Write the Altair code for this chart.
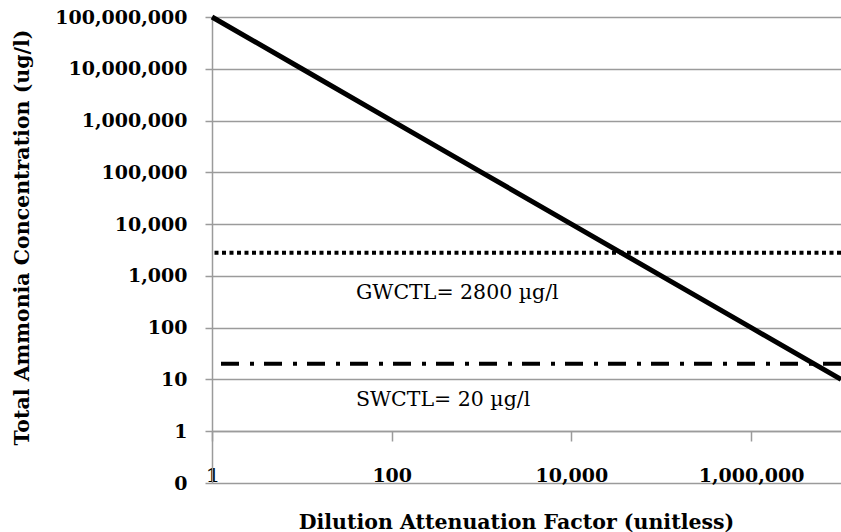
import altair as alt
import pandas as pd

# ---- data ----
daf = [1, 10, 100, 1000, 10000, 100000, 1000000, 10000000]
conc = [100000000, 10000000, 1000000, 100000, 10000, 1000, 100, 10]

gw_value = [2800]
sw_value = [20]

label_texts = ["GWCTL= 2800 µg/l", "SWCTL= 20 µg/l"]
label_x = [40, 40]
label_y = [470, 4]

y_ticks = [0.1, 1, 10, 100, 1000, 10000, 100000, 1000000, 10000000, 100000000]
x_ticks = [1, 100, 10000, 1000000]

line_df = pd.DataFrame({"x": daf, "y": conc})
gw_df = pd.DataFrame({"y": gw_value})
sw_df = pd.DataFrame({"y": sw_value})
lab_df = pd.DataFrame({"x": label_x, "y": label_y, "t": label_texts})

GRID = "#9b9b9b"
FONT = "DejaVu Serif"
XT = "Dilution Attenuation  Factor (unitless)"
YT = "Total Ammonia Concentration  (ug/l)"

xscale = alt.Scale(type="log", domain=[1, 10000000], nice=False)
yscale = alt.Scale(type="log", domain=[0.1, 100000000], nice=False)

xaxis = alt.Axis(
    values=x_ticks, format=",.0f", offset=-52, grid=False,
    domainColor=GRID, domainWidth=1.5, tickColor=GRID, tickWidth=1.5, tickSize=10,
    labelFont=FONT, labelFontWeight="bold", labelFontSize=19, labelColor="black",
    labelBaseline="alphabetic", labelPadding=40, labelOverlap=False, labelFlush=False,
    titleFont=FONT, titleFontWeight="bold", titleFontSize=20.5, titleColor="black",
    titleX=304, titleY=97, titleBaseline="alphabetic",
)
yaxis = alt.Axis(
    values=y_ticks, format=",.0f", grid=True, gridColor=GRID, gridWidth=1.6,
    domainColor=GRID, domainWidth=1.5, tickColor=GRID, tickWidth=1.5, tickSize=7,
    labelFont=FONT, labelFontWeight="bold", labelFontSize=19, labelColor="black",
    labelPadding=18, labelOverlap=False,
    titleFont=FONT, titleFontWeight="bold", titleFontSize=20.5, titleColor="black",
    titleX=-190, titleY=220, titleBaseline="middle", titleAngle=270,
)

line = alt.Chart(line_df).mark_line(color="black", strokeWidth=5).encode(
    x=alt.X("x:Q", scale=xscale, axis=xaxis, title=XT),
    y=alt.Y("y:Q", scale=yscale, axis=yaxis, title=YT),
)

gw = alt.Chart(gw_df).mark_rule(color="black", strokeWidth=4, strokeDash=[4, 3.5]).encode(
    y=alt.Y("y:Q", scale=yscale, title=YT),
)
sw = alt.Chart(sw_df).mark_rule(color="black", strokeWidth=4, strokeDash=[18, 10, 4, 11]).encode(
    y=alt.Y("y:Q", scale=yscale, title=YT),
)

labels = alt.Chart(lab_df).mark_text(
    align="left", baseline="middle", font=FONT, fontSize=20.5, color="black"
).encode(
    x=alt.X("x:Q", scale=xscale, title=XT),
    y=alt.Y("y:Q", scale=yscale, title=YT),
    text="t:N",
)

chart = alt.layer(gw, sw, labels, line).properties(
    width=629, height=466,
    padding={"left": 212, "top": 17, "right": 0, "bottom": 49},
    autosize=alt.AutoSizeParams(type="none"),
).configure_view(stroke=None).configure(background="white")

chart.save("out.html", embed_options={"renderer": "svg", "actions": False})
